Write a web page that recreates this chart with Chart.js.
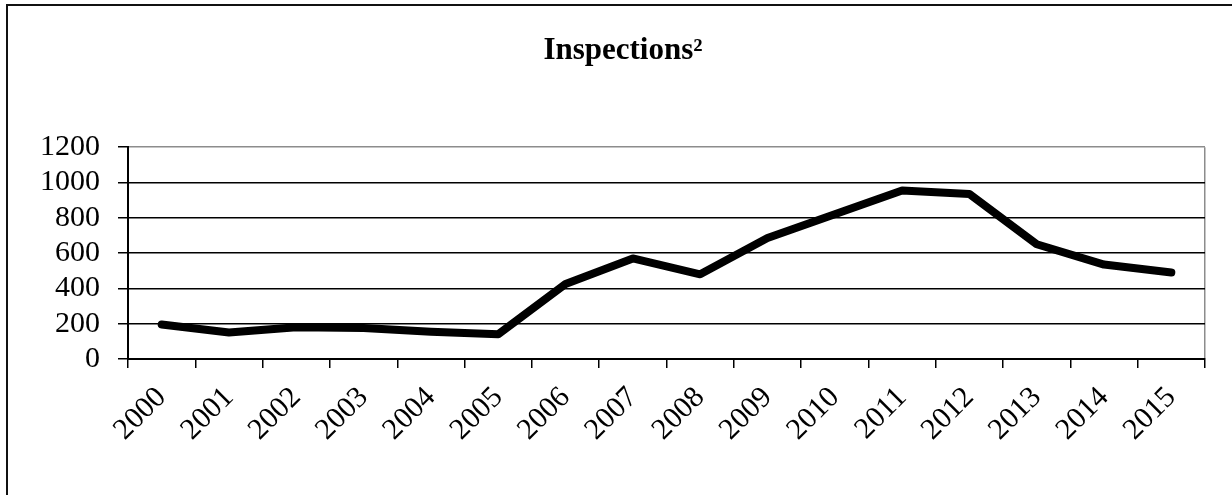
<!DOCTYPE html>
<html>
<head>
<meta charset="utf-8">
<script src="https://cdn.jsdelivr.net/npm/chart.js@4"></script>
<style>
  html, body { margin: 0; padding: 0; background: #fff; overflow: hidden; }
  #frame {
    position: absolute; left: 6px; top: 4px; width: 1400px; height: 700px;
    border-left: 2px solid #111; border-top: 2px solid #111;
  }
  #wrap { position: absolute; left: 0; top: 0; width: 1232px; height: 495px; }
</style>
</head>
<body>
<div id="frame"></div>
<div id="wrap"><canvas id="chart"></canvas></div>
<script>
// Data
const years = ['2000','2001','2002','2003','2004','2005','2006','2007',
               '2008','2009','2010','2011','2012','2013','2014','2015'];
const inspections = [195, 150, 180, 175, 155, 140, 425, 570,
                     480, 685, 820, 955, 935, 650, 535, 490];
const yTicks = [0, 200, 400, 600, 800, 1000, 1200];

const serif = "'Liberation Serif', 'Times New Roman', serif";

window.addEventListener('DOMContentLoaded', () => {
  const ctx = document.getElementById('chart').getContext('2d');
  new Chart(ctx, {
    type: 'line',
    data: {
      labels: years,
      datasets: [{
        label: 'Inspections',
        data: inspections,
        borderColor: '#000',
        borderWidth: 8,
        pointRadius: 0,
        tension: 0,
        borderCapStyle: 'round',
        borderJoinStyle: 'round',
        fill: false
      }]
    },
    options: {
      responsive: true,
      maintainAspectRatio: false,
      animation: false,
      // left/right padding also shifts the title centre to match
      layout: { padding: { left: 41, right: 27, top: 0, bottom: 0 } },
      plugins: {
        legend: { display: false },
        tooltip: { enabled: false },
        title: {
          display: true,
          text: 'Inspections²',
          color: '#000',
          font: { family: serif, size: 31, weight: 'bold' },
          padding: { top: 32, bottom: 78 }
        }
      },
      scales: {
        x: {
          offset: true,
          border: { display: true, color: '#000', width: 2 },
          grid: {
            offset: true,
            drawOnChartArea: true,
            drawTicks: true,
            tickLength: 9,
            lineWidth: 1.5,
            // only the closing right edge is drawn inside the plot
            color: c => c.index === undefined ? '#8c8c8c' : 'rgba(0,0,0,0)',
            tickColor: '#000'
          },
          ticks: {
            color: '#000',
            minRotation: 45,
            maxRotation: 45,
            autoSkip: false,
            padding: 12,
            labelOffset: 0,
            font: { family: serif, size: 30 }
          },
          afterFit: s => { s.height = 136; }
        },
        y: {
          min: 0,
          max: 1200,
          border: { display: true, color: '#000', width: 2 },
          grid: {
            color: c => c.tick && c.tick.value === 1200 ? '#8c8c8c' : '#000',
            lineWidth: 1.5,
            tickLength: 10,
            tickColor: '#000'
          },
          afterBuildTicks: s => { s.ticks = yTicks.map(v => ({ value: v })); },
          ticks: {
            color: '#000',
            autoSkip: false,
            padding: 18,
            callback: v => String(v),
            font: { family: serif, size: 30 }
          },
          afterFit: s => { s.width = 87; }
        }
      }
    }
  });
});
</script>
</body>
</html>
